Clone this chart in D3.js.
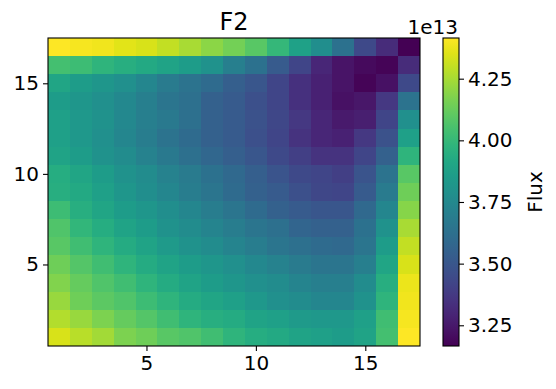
<!DOCTYPE html>
<html>
<head>
<meta charset="utf-8">
<script src="https://cdn.jsdelivr.net/npm/d3@7"></script>
<style>
  body { margin: 0; background: #fff; }
  svg { display: block; font-family: "DejaVu Sans", sans-serif; }
  .axis path, .axis line { stroke: #000; stroke-width: 1.1px; }
  .axis text { font-family: "DejaVu Sans", sans-serif; font-size: 20px; fill: #000; }
</style>
</head>
<body>
<svg id="chart" width="556" height="389"></svg>
<script>
// Mapa de flujo F2 (valores en unidades de 1e13), filas y = 1..17, columnas x = 1..17
const xCells = d3.range(1, 18);
const yCells = d3.range(1, 18);

const row01 = [4.34, 4.28, 4.24, 4.17, 4.14, 4.09, 4.07, 4.03, 3.98, 3.94, 3.92, 3.89, 3.87, 3.85, 3.89, 4.04, 4.415];
const row02 = [4.27, 4.22, 4.17, 4.12, 4.08, 4.03, 3.98, 3.95, 3.93, 3.89, 3.87, 3.84, 3.83, 3.83, 3.87, 4.03, 4.40];
const row03 = [4.22, 4.14, 4.10, 4.07, 4.02, 3.98, 3.93, 3.90, 3.87, 3.83, 3.79, 3.77, 3.74, 3.74, 3.80, 3.98, 4.39];
const row04 = [4.18, 4.12, 4.07, 4.03, 3.98, 3.93, 3.89, 3.85, 3.82, 3.79, 3.77, 3.73, 3.70, 3.70, 3.77, 3.95, 4.38];
const row05 = [4.14, 4.08, 4.03, 3.98, 3.93, 3.89, 3.85, 3.82, 3.79, 3.75, 3.72, 3.68, 3.65, 3.65, 3.70, 3.90, 4.34];
const row06 = [4.09, 4.03, 3.98, 3.93, 3.89, 3.84, 3.80, 3.77, 3.73, 3.69, 3.65, 3.62, 3.60, 3.59, 3.65, 3.85, 4.30];
const row07 = [4.07, 3.99, 3.94, 3.89, 3.85, 3.80, 3.77, 3.73, 3.69, 3.65, 3.62, 3.57, 3.55, 3.55, 3.63, 3.80, 4.25];
const row08 = [4.02, 3.95, 3.90, 3.85, 3.82, 3.78, 3.74, 3.69, 3.65, 3.60, 3.55, 3.52, 3.50, 3.50, 3.59, 3.74, 4.19];
const row09 = [3.95, 3.92, 3.87, 3.82, 3.78, 3.74, 3.69, 3.65, 3.60, 3.55, 3.52, 3.47, 3.43, 3.42, 3.52, 3.68, 4.14];
const row10 = [3.94, 3.90, 3.85, 3.80, 3.77, 3.72, 3.68, 3.63, 3.59, 3.54, 3.49, 3.44, 3.42, 3.40, 3.49, 3.64, 4.09];
const row11 = [3.89, 3.85, 3.80, 3.77, 3.72, 3.67, 3.62, 3.58, 3.54, 3.50, 3.44, 3.40, 3.35, 3.35, 3.42, 3.55, 3.98];
const row12 = [3.87, 3.83, 3.79, 3.74, 3.69, 3.64, 3.60, 3.55, 3.52, 3.47, 3.42, 3.35, 3.30, 3.28, 3.37, 3.48, 3.87];
const row13 = [3.87, 3.83, 3.80, 3.75, 3.70, 3.67, 3.62, 3.55, 3.52, 3.48, 3.43, 3.37, 3.30, 3.25, 3.27, 3.42, 3.79];
const row14 = [3.85, 3.82, 3.79, 3.75, 3.70, 3.65, 3.62, 3.55, 3.52, 3.47, 3.42, 3.34, 3.28, 3.22, 3.24, 3.37, 3.64];
const row15 = [3.90, 3.85, 3.82, 3.79, 3.74, 3.68, 3.64, 3.60, 3.54, 3.50, 3.42, 3.34, 3.28, 3.23, 3.18, 3.22, 3.44];
const row16 = [4.04, 4.02, 3.98, 3.95, 3.92, 3.89, 3.85, 3.80, 3.70, 3.63, 3.52, 3.42, 3.30, 3.23, 3.20, 3.18, 3.32];
const row17 = [4.415, 4.40, 4.39, 4.36, 4.34, 4.30, 4.25, 4.20, 4.15, 4.09, 4.00, 3.88, 3.78, 3.63, 3.44, 3.32, 3.166];

const fluxRows = [row01, row02, row03, row04, row05, row06, row07, row08, row09,
                  row10, row11, row12, row13, row14, row15, row16, row17];

const axisTicks = [5, 10, 15];
const cbarTicks = [3.25, 3.50, 3.75, 4.00, 4.25];

const plot = { left: 48, right: 420, top: 38, bottom: 346 };
const cbar = { left: 443, right: 459 };

const svg = d3.select("#chart");

const cells = [];
fluxRows.forEach((row, j) => {
  row.forEach((v, i) => cells.push({ x: xCells[i], y: yCells[j], v: v }));
});

const x = d3.scaleLinear().domain([0.5, 17.5]).range([plot.left, plot.right]);
const y = d3.scaleLinear().domain([0.5, 17.5]).range([plot.bottom, plot.top]);
const color = d3.scaleSequential(d3.interpolateViridis).domain(d3.extent(cells, d => d.v));

// celdas
svg.append("g")
  .attr("shape-rendering", "crispEdges")
  .selectAll("rect")
  .data(cells)
  .enter().append("rect")
  .attr("x", d => Math.round(x(d.x - 0.5)))
  .attr("y", d => Math.round(y(d.y + 0.5)))
  .attr("width", d => Math.round(x(d.x + 0.5)) - Math.round(x(d.x - 0.5)))
  .attr("height", d => Math.round(y(d.y - 0.5)) - Math.round(y(d.y + 0.5)))
  .attr("fill", d => color(d.v));

// ejes
svg.append("g")
  .attr("class", "axis")
  .attr("transform", `translate(0,${plot.bottom})`)
  .call(d3.axisBottom(x).tickValues(axisTicks).tickSize(5).tickPadding(5).tickSizeOuter(0))
  .call(g => g.select(".domain").remove());

svg.append("g")
  .attr("class", "axis")
  .attr("transform", `translate(${plot.left},0)`)
  .call(d3.axisLeft(y).tickValues(axisTicks).tickSize(5).tickPadding(4).tickSizeOuter(0))
  .call(g => g.select(".domain").remove());

svg.append("rect")
  .attr("x", plot.left).attr("y", plot.top)
  .attr("width", plot.right - plot.left).attr("height", plot.bottom - plot.top)
  .attr("fill", "none").attr("stroke", "#000").attr("stroke-width", 1.1);

svg.append("text")
  .attr("x", (plot.left + plot.right) / 2)
  .attr("y", 30)
  .attr("text-anchor", "middle")
  .style("font-size", "24px")
  .text("F2");

// barra de color
const cScale = d3.scaleLinear().domain(color.domain()).range([plot.bottom, plot.top]);
const grad = svg.append("defs").append("linearGradient")
  .attr("id", "viridis-grad")
  .attr("x1", 0).attr("y1", 1).attr("x2", 0).attr("y2", 0);
d3.range(0, 1.0001, 0.05).forEach(t => {
  grad.append("stop").attr("offset", t).attr("stop-color", d3.interpolateViridis(t));
});

svg.append("rect")
  .attr("x", cbar.left).attr("y", plot.top)
  .attr("width", cbar.right - cbar.left).attr("height", plot.bottom - plot.top)
  .attr("fill", "url(#viridis-grad)")
  .attr("stroke", "#000").attr("stroke-width", 1.1);

svg.append("g")
  .attr("class", "axis")
  .attr("transform", `translate(${cbar.right},0)`)
  .call(d3.axisRight(cScale).tickValues(cbarTicks).tickFormat(d3.format(".2f")).tickSize(5).tickPadding(4).tickSizeOuter(0))
  .call(g => g.select(".domain").remove());

svg.append("text")
  .attr("x", cbar.right - 1)
  .attr("y", 34)
  .attr("text-anchor", "end")
  .style("font-size", "20px")
  .text("1e13");

svg.append("text")
  .attr("transform", `translate(542,${(plot.top + plot.bottom) / 2}) rotate(-90)`)
  .attr("text-anchor", "middle")
  .style("font-size", "20px")
  .text("Flux");
</script>
</body>
</html>
